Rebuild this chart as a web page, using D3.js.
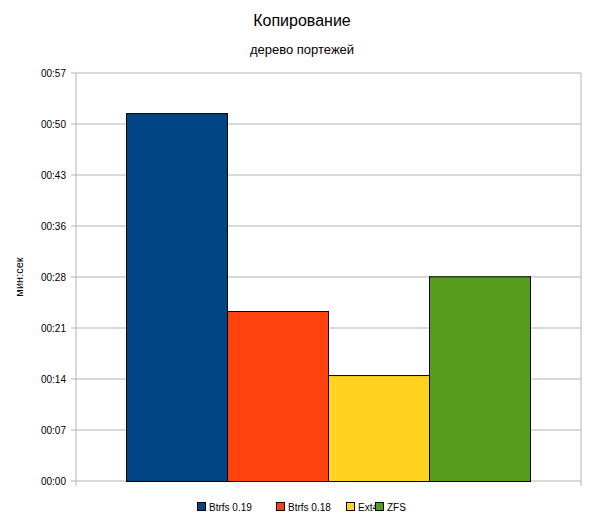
<!DOCTYPE html><html><head><meta charset="utf-8">
<script src="https://cdn.jsdelivr.net/npm/d3@7"></script>
<style>body{margin:0;background:#fff}text{font-family:"Liberation Sans",Arial,sans-serif}</style></head><body>
<svg id="c" width="605" height="529"></svg>
<script>
const categories=["Btrfs 0.19","Btrfs 0.18","Ext4","ZFS"];
const values=[51.4,23.75,14.8,28.6];
const colors=["#004586","#ff420e","#ffd320","#579d1c"];
const tickLabels=["00:00","00:07","00:14","00:21","00:28","00:36","00:43","00:50","00:57"];
const svg=d3.select("#c");
const L=76,R=581,T=73,B=481;
const y=d3.scaleLinear().domain([0,57]).range([B,T]);
const x=d3.scaleBand().domain(categories).range([126,530]).padding(0);
svg.append("text").attr("x",302).attr("y",26).attr("text-anchor","middle").attr("font-size",16).text("Копирование");
svg.append("text").attr("x",302).attr("y",54).attr("text-anchor","middle").attr("font-size",13).text("дерево портежей");
const tv=tickLabels.map((d,i)=>i*57/8);
svg.append("g").selectAll("line").data(tv).join("line").attr("x1",L-5).attr("x2",R).attr("y1",d=>y(d)).attr("y2",d=>y(d)).attr("stroke","#b3b3b3");
svg.append("g").selectAll("text").data(tv).join("text").attr("x",L-10).attr("y",d=>y(d)+4).attr("text-anchor","end").attr("font-size",10).text((d,i)=>tickLabels[i]);
svg.append("line").attr("x1",L).attr("x2",L).attr("y1",T).attr("y2",B+5).attr("stroke","#b3b3b3");
svg.append("line").attr("x1",R).attr("x2",R).attr("y1",T).attr("y2",B+5).attr("stroke","#b3b3b3");
svg.append("g").selectAll("rect").data(categories).join("rect").attr("x",d=>x(d)+0.5).attr("width",x.bandwidth()).attr("y",(d,i)=>y(values[i])+0.5).attr("height",(d,i)=>B-y(values[i])).attr("fill",(d,i)=>colors[i]).attr("stroke","#000").attr("stroke-width",1);
svg.append("text").attr("transform","translate(23,277) rotate(-90)").attr("text-anchor","middle").attr("font-size",11).text("мин:сек");
const lx=[197,276,346,375];
const lg=svg.append("g").selectAll("g").data(categories).join("g").attr("transform",(d,i)=>`translate(${lx[i]},502)`);
lg.append("rect").attr("width",8).attr("height",8).attr("x",0.5).attr("y",0.5).attr("fill",(d,i)=>colors[i]).attr("stroke","#000");
lg.append("text").attr("x",12).attr("y",9).attr("font-size",10).text(d=>d);
</script></body></html>
